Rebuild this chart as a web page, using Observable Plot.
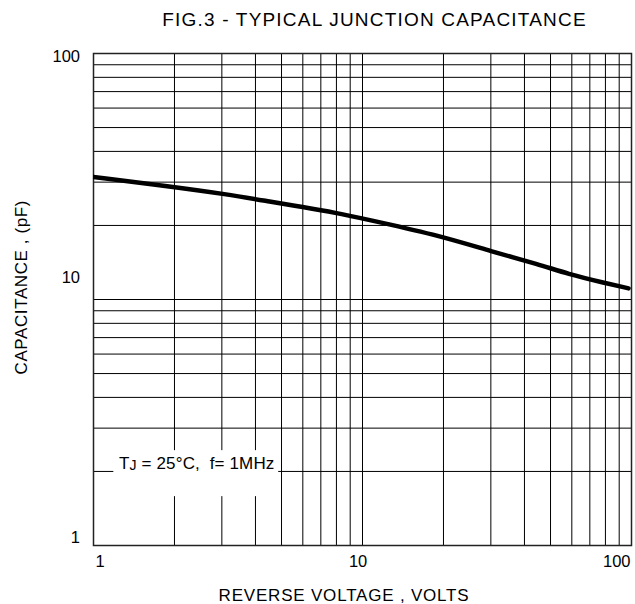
<!DOCTYPE html>
<html><head><meta charset="utf-8">
<script src="https://cdn.jsdelivr.net/npm/d3@7"></script>
<script src="https://cdn.jsdelivr.net/npm/@observablehq/plot@0.6"></script>
<style>
html,body{margin:0;padding:0;background:#fff;}
#chart svg{display:block;}
</style></head><body><div id="chart"></div>
<script>
// ---- data ----
const title = "FIG.3 - TYPICAL JUNCTION CAPACITANCE";
const xLabel = "REVERSE VOLTAGE , VOLTS";
const yLabel = "CAPACITANCE , (pF)";
const note = "TJ = 25°C,  f= 1MHz";
const voltage =     [1,    1.89, 3.12, 4.62, 5.94, 8.0,  10.1, 18.6, 30.6, 45.2, 58.0, 78.9, 97.5];
const capacitance = [31.5, 28.9, 26.8, 24.9, 23.8, 22.5, 21.3, 18.4, 15.6, 13.9, 12.7, 11.7, 11.1];
const gridValues = [1,2,3,4,5,6,7,8,9,10,20,30,40,50,60,70,80,90,100];
const xTickLabels = [1, 4, 10, 100];
const yTickLabels = [1, 10, 100];
// annotation placement in data units (volts, pF)
const noteBox = {x1: 1.19, x2: 4.88, y1: 1.58, y2: 2.43, x: 2.42, y: 2.30};

const rows = voltage.map((v, i) => ({v, c: capacitance[i]}));
const font = "'Liberation Sans', Arial, Helvetica, sans-serif";
const fmt = d => String(d);
const axOpts = {tickSize: 0, tickFormat: fmt, label: null, fontSize: 16.5, stroke: "none"};

const svg = Plot.plot({
  width: 635, height: 604,
  marginLeft: 93, marginRight: 4, marginTop: 53, marginBottom: 59,
  style: {fontFamily: font, fontSize: "16.5px", color: "#000", background: "#fff"},
  x: {type: "log", domain: [1, 100], label: null},
  y: {type: "log", domain: [1, 100], label: null},
  marks: [
    Plot.ruleX(gridValues, {stroke: "#000", strokeWidth: 1}),
    Plot.ruleY(gridValues, {stroke: "#000", strokeWidth: 1}),
    Plot.rect([noteBox], {x1: "x1", x2: "x2", y1: "y1", y2: "y2", fill: "#fff"}),
    Plot.frame({stroke: "#222", strokeWidth: 1.5}),
    Plot.line(rows, {x: "v", y: "c", stroke: "#000", strokeWidth: 4.5, strokeLinecap: "round",
                     strokeLinejoin: "round", curve: "basis", clip: "frame"}),
    Plot.text([noteBox], {x: "x", y: "y", text: () => note, lineAnchor: "top", fontSize: 17, fill: "#000"}),
    Plot.axisX([xTickLabels[0]], {...axOpts, tickPadding: 10, textAnchor: "start", dx: 2}),
    Plot.axisX([xTickLabels[1]], {...axOpts, tickPadding: 10}),
    Plot.axisX([xTickLabels[2]], {...axOpts, tickPadding: 10, dx: -4.4}),
    Plot.axisX([xTickLabels[3]], {...axOpts, tickPadding: 10, textAnchor: "end", dx: -1}),
    Plot.axisY([yTickLabels[2]], {...axOpts, tickPadding: 13.5, dy: 3.4}),
    Plot.axisY([yTickLabels[1]], {...axOpts, tickPadding: 13.5, dy: -21.5}),
    Plot.axisY([yTickLabels[0]], {...axOpts, tickPadding: 13.5, dy: -7.7}),
    Plot.text([title], {frameAnchor: "top", lineAnchor: "top", dy: -41.5, dx: 12, fontSize: 19, fill: "#000"}),
    Plot.text([xLabel], {frameAnchor: "bottom", lineAnchor: "top", dy: 43, dx: -18.5, fontSize: 17, fill: "#000"}),
    Plot.text([yLabel], {frameAnchor: "left", textAnchor: "middle", lineAnchor: "top", rotate: -90, dx: -79, dy: -12.3, fontSize: 17, fill: "#000"})
  ]
});

d3.select(svg).selectAll("text").each(function() {
  const t = this.textContent;
  if (t === title) this.setAttribute("letter-spacing", "1.2");
  else if (t === xLabel) this.setAttribute("letter-spacing", "0.8");
  else if (t === yLabel) this.setAttribute("letter-spacing", "0.6");
  else if (t === note) {
    const sel = d3.select(this);
    sel.style("white-space", "pre").attr("xml:space", "preserve").attr("letter-spacing", "0.15");
    sel.text(null);
    sel.append("tspan").text(note.slice(0, 1));
    sel.append("tspan").attr("font-size", 14).attr("dy", 1).text(note.slice(1, 2));
    sel.append("tspan").attr("dy", -1).text(note.slice(2));
  }
});

document.getElementById("chart").appendChild(svg);
</script>
</body></html>
